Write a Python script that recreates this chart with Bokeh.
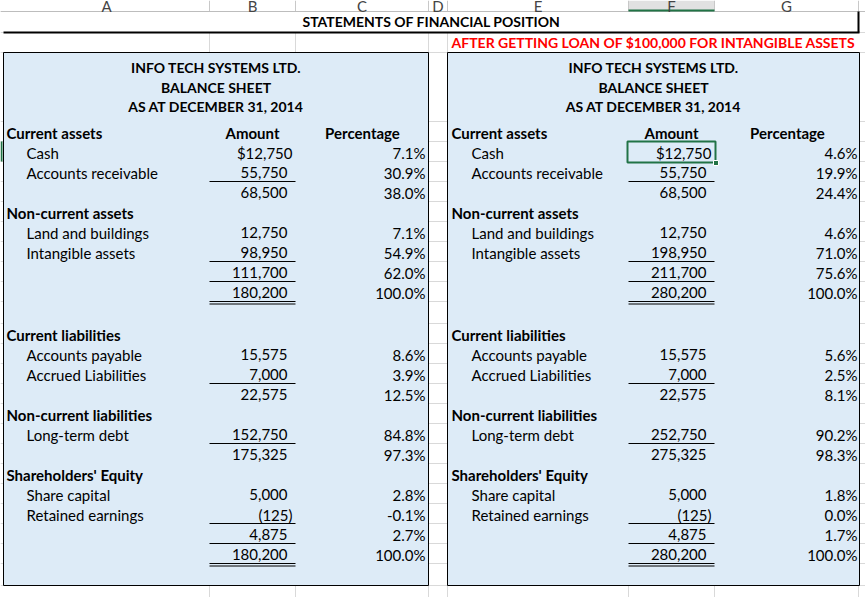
from bokeh.plotting import figure
from bokeh.models import Range1d
from bokeh.core.properties import value
from bokeh.embed import file_html
from bokeh.resources import INLINE

# ---------------- data ----------------
title = "STATEMENTS OF FINANCIAL POSITION"
subtitle = "AFTER GETTING LOAN OF $100,000 FOR INTANGIBLE ASSETS"
company = ["INFO TECH SYSTEMS LTD.", "BALANCE SHEET", "AS AT DECEMBER 31, 2014"]
col_letters = ["A", "B", "C", "D", "E", "F", "G"]
headers = ["Amount", "Percentage"]

section_rows = [0, 4, 10, 14, 17]
sections = ["Current assets", "Non-current assets", "Current liabilities",
            "Non-current liabilities", "Shareholders' Equity"]
item_rows = [1, 2, 5, 6, 11, 12, 15, 18, 19]
items = ["Cash", "Accounts receivable", "Land and buildings", "Intangible assets",
         "Accounts payable", "Accrued Liabilities", "Long-term debt",
         "Share capital", "Retained earnings"]
value_rows = [1, 2, 3, 5, 6, 7, 8, 11, 12, 13, 15, 16, 18, 19, 20, 21]
amount_before = [12750, 55750, 68500, 12750, 98950, 111700, 180200,
                 15575, 7000, 22575, 152750, 175325, 5000, -125, 4875, 180200]
pct_before = [7.1, 30.9, 38.0, 7.1, 54.9, 62.0, 100.0,
              8.6, 3.9, 12.5, 84.8, 97.3, 2.8, -0.1, 2.7, 100.0]
amount_after = [12750, 55750, 68500, 12750, 198950, 211700, 280200,
                15575, 7000, 22575, 252750, 275325, 5000, -125, 4875, 280200]
pct_after = [4.6, 19.9, 24.4, 4.6, 71.0, 75.6, 100.0,
             5.6, 2.5, 8.1, 90.2, 98.3, 1.8, 0.0, 1.7, 100.0]
single_rule_rows = [2, 6, 7, 12, 15, 19, 20]
double_rule_rows = [8, 21]

# ---------------- layout (reference pixel space) ----------------
FONT = "Lato"
FS = "15px"        # regular cell text
FSB = "15px"       # bold mixed-case headings
FST = "14px"       # bold upper-case titles
BLUE = "#DDEBF7"
GRID = "#D9D9D9"
GREEN = "#217346"
col_edges = [0, 209, 295, 428, 447, 628, 714, 858, 865]


def row_top(r):
    return 121 + 20 * r if r <= 9 else 323 + 20 * (r - 10)


def row_mid(r):
    return row_top(r) + 11


def fmt_amount(v, i):
    if v < 0:
        return "(" + f"{-v:,}" + ")"
    return ("$" if i == 0 else "") + f"{v:,}"


p = figure(width=865, height=597, x_range=Range1d(0, 865), y_range=Range1d(597, 0),
           output_backend="svg", toolbar_location=None, min_border=0,
           background_fill_color="white", border_fill_color="white")
p.axis.visible = False
p.grid.visible = False
p.outline_line_color = None


def txt(xs, ys, texts, align="left", bold=False, color="black", size=None, baseline="middle"):
    if size is None:
        size = FSB if bold else FS
    p.text(x=xs, y=ys, text=texts, text_font=value(FONT), text_font_size=size,
           text_align=align, text_baseline=baseline, text_color=color,
           text_font_style="bold" if bold else "normal")


def hseg(x0, x1, y, color=GRID, w=1):
    p.segment(x0=x0, x1=x1, y0=y, y1=y, line_color=color, line_width=w)


def vseg(x, y0, y1, color=GRID, w=1):
    p.segment(x0=x, x1=x, y0=y0, y1=y1, line_color=color, line_width=w)


# ---- gridlines outside merged/box areas ----
bounds = [11, 32, 52, 121] + [row_top(r) for r in range(1, 22)] + [563, 585]
strips = [(0, 3), (428, 447), (859, 865)]
for (a, b) in strips:
    hseg([a] * len(bounds), [b] * len(bounds), bounds)
# row 2 (left of red subtitle)
vseg([209, 295, 428, 447], [32] * 4, [52] * 4)
hseg([0], [447], [52])
# below the boxes
vseg(col_edges[1:-1], [585] * 7, [597] * 7)

# ---- column header row ----
p.quad(left=[628], right=[714], top=[0], bottom=[11], fill_color="#E1E1E1", line_color=None)
vseg(col_edges[1:-1], [0] * 7, [11] * 7, color="#C8C8C8")
hseg([0], [865], [11], color="#BDBDBD")
hseg([628], [714], [10], color=GREEN, w=2)
mids = [(col_edges[i] + col_edges[i + 1]) / 2 for i in range(7)]
mids[0] = 106
txt(mids, [5] * 7, col_letters, align="center", color="#444444", size="15px",
    baseline="alphabetic")

# ---- title rows ----
txt([431], [21], [title], align="center", bold=True, size=FST)
hseg([3], [859], [32], color="black", w=2)
vseg([858], [11], [32], color="black", w=2)
txt([653], [42], [subtitle], align="center", bold=True, color="#FF0000", size=FST)

# ---- boxes ----
boxes = [(3, 428), (447, 859)]
for (l, r) in boxes:
    p.quad(left=[l], right=[r], top=[52], bottom=[585], fill_color=BLUE,
           line_color="black", line_width=1)

side_cfg = [
    dict(box=boxes[0], sec_x=6, item_x=26, amt_x=287, amt_c=252, pct_x=425, pct_c=362,
         rule=(209, 295), amounts=amount_before, pcts=pct_before),
    dict(box=boxes[1], sec_x=451, item_x=471, amt_x=706, amt_c=671, pct_x=857, pct_c=787,
         rule=(628, 714), amounts=amount_after, pcts=pct_after),
]

for cfg in side_cfg:
    cx = (cfg["box"][0] + cfg["box"][1]) / 2
    txt([cx] * 3, [67 + 19.5 * i for i in range(3)], company, align="center", bold=True,
        size=FST)
    txt([cfg["sec_x"]] * len(sections), [row_mid(r) for r in section_rows], sections, bold=True)
    txt([cfg["amt_c"], cfg["pct_c"]], [row_mid(0)] * 2, headers, align="center", bold=True)
    txt([cfg["item_x"]] * len(items), [row_mid(r) for r in item_rows], items)
    amt_txt = [fmt_amount(v, i) for i, v in enumerate(cfg["amounts"])]
    amt_x = [cfg["amt_x"] + (5 if (i == 0 or v < 0) else 0)
             for i, v in enumerate(cfg["amounts"])]
    txt(amt_x, [row_mid(r) for r in value_rows], amt_txt, align="right")
    txt([cfg["pct_x"]] * len(value_rows), [row_mid(r) for r in value_rows],
        [f"{v:.1f}%" for v in cfg["pcts"]], align="right")
    a, b = cfg["rule"]
    ys = [row_top(r + 1) for r in single_rule_rows]
    hseg([a] * len(ys), [b] * len(ys), ys, color="black")
    for r in double_rule_rows:
        y = row_top(r + 1) if r < 9 else row_top(r) + 20
        hseg([a, a], [b, b], [y, y + 2.5], color="black")

# ---- selection marks ----
p.quad(left=[0], right=[2], top=[141], bottom=[161], fill_color=GREEN, line_color=None)
p.quad(left=[627], right=[715], top=[141], bottom=[162], fill_color=None,
       line_color=GREEN, line_width=2)
p.quad(left=[713], right=[718], top=[160], bottom=[165], fill_color=GREEN,
       line_color="white", line_width=1)

open("out.html", "w").write(file_html(p, INLINE))
